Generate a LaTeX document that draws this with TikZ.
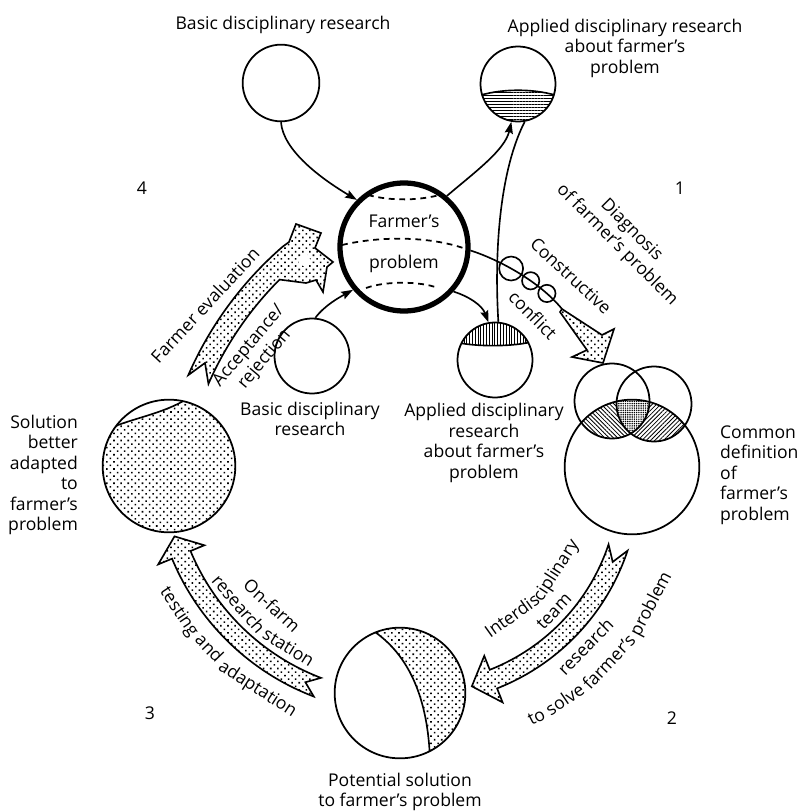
\documentclass[tikz,border=0pt]{standalone}
\usepackage{fontspec}
\setmainfont{Open Sans}
\usetikzlibrary{arrows.meta,calc,patterns.meta,decorations.text}
\pgfdeclarelayer{background}
\pgfsetlayers{background,main}

\newcommand{\lbl}{\fontsize{15}{17.5}\selectfont}

% fat dotted arrow on a ring: centre, radius, tail, notch, head base, tip
\newcommand{\fatarrow}[6]{%
  \draw[fat] ($(#1)+(#3:{#2+10})$) arc[start angle=#3, end angle=#5, radius=#2+10]
    -- ($(#1)+(#5:{#2+25})$) -- ($(#1)+(#6:#2)$) -- ($(#1)+(#5:{#2-25})$)
    -- ($(#1)+(#5:{#2-10})$) arc[start angle=#5, end angle=#3, radius=#2-10]
    -- ($(#1)+(#4:#2)$) -- cycle;}

% label bent along a ring: centre, radius, from, to, text
\newcommand{\arctext}[5]{%
  \path[decorate, decoration={text along path, text align=center, text={|\lbl|#5}}]
    ($(#1)+(#3:#2)$) arc[start angle=#3, end angle=#4, radius=#2];}

\begin{document}
\begin{tikzpicture}[x=0.03cm, y=-0.03cm, font=\lbl,
  disc/.style={circle, draw, line width=1.5pt, inner sep=0pt, minimum size=2.25cm},
  loop/.style={circle, draw, line width=1.4pt, inner sep=0pt, minimum size=0.52cm},
  link/.style={line width=1.4pt, -{Stealth[length=10pt, width=7pt, inset=1.5pt]}},
  dashes/.style={line width=1.5pt, dash pattern=on 5pt off 4pt},
  dotty/.style={pattern={Dots[distance=4.3pt, radius=0.95pt, angle=45]}},
  fat/.style={draw, line width=1.4pt, dotty}]
  \useasboundingbox (0,0) rectangle (800,811);

  % circles
  \node[disc, minimum size=2.3cm] (basicTop) at (281,83) {};
  \node[disc] (appliedTop) at (518,84) {};
  \node[circle, draw, line width=4.5pt, minimum size=3.84cm] (farmer) at (404,247) {};
  \node[disc] (basicLow) at (312,356) {};
  \node[disc] (appliedLow) at (495,360) {};
  \node[disc] (vennL) at (612,401) {};
  \node[disc] (vennR) at (654,404) {};
  \node[disc, minimum size=4.04cm] (vennBig) at (632,467) {};
  \node[disc, minimum size=3.98cm] (solution) at (169,466) {};
  \node[disc, minimum size=3.92cm] (potential) at (400,693) {};

  % shading
  \begin{pgfonlayer}{background}
    \begin{scope}
      \clip (appliedTop.center) circle[radius=37.5];
      \fill[pattern={Lines[angle=0, distance=2.6pt, line width=0.8pt]}]
        (475,97) .. controls (500,88) and (536,88) .. (561,97) -- (561,130) -- (475,130) -- cycle;
      \draw[line width=1.4pt] (475,97) .. controls (500,88) and (536,88) .. (561,97);
    \end{scope}
    \begin{scope}
      \clip (appliedLow.center) circle[radius=37.5];
      \fill[pattern={Lines[angle=90, distance=2.4pt, line width=0.7pt]}]
        (455,342) .. controls (475,347) and (515,347) .. (535,341) -- (535,315) -- (455,315) -- cycle;
      \draw[line width=1.4pt] (455,342) .. controls (475,347) and (515,347) .. (535,341);
    \end{scope}
    \begin{scope}
      \clip (vennBig.center) circle[radius=67];
      \fill[pattern={Lines[angle=-45, distance=2.6pt, line width=0.7pt]}] (vennL.center) circle[radius=37.5];
      \fill[pattern={Lines[angle=45, distance=2.6pt, line width=0.7pt]}] (vennR.center) circle[radius=37.5];
      \clip (vennL.center) circle[radius=37.5];
      \fill[white] (vennR.center) circle[radius=37.5];
      \fill[pattern={Dots[distance=1.9pt, radius=0.7pt]}] (vennR.center) circle[radius=37.5];
    \end{scope}
    \begin{scope}
      \clip (solution.center) circle[radius=66];
      \fill[dotty] (95,440) -- (118,425) .. controls (140,417) and (165,412) .. (185,400)
        -- (250,380) -- (250,550) -- (90,550) -- cycle;
      \draw[line width=1.4pt] (95,440) -- (118,425) .. controls (140,417) and (165,412) .. (185,400) -- (200,390);
    \end{scope}
    \begin{scope}
      \clip (potential.center) circle[radius=65];
      \fill[dotty] (372,630) .. controls (410,655) and (428,700) .. (430,760) -- (480,760) -- (480,620) -- cycle;
      \draw[line width=1.4pt] (372,630) .. controls (410,655) and (428,700) .. (430,760);
    \end{scope}
  \end{pgfonlayer}

  % inside the farmer's circle
  \draw[dashes] (368,195) .. controls (390,201) and (420,201) .. (443,194);
  \draw[dashes] (342,245) .. controls (380,236) and (430,236) .. (466,249);
  \draw[dashes] (366,288) .. controls (385,281) and (420,281) .. (438,288);
  \node (farmerA) at (404,221) {Farmer's};
  \node (farmerB) at (404,264) {problem};

  % labels
  \node (lblBasicTop) at (283,25) {Basic disciplinary research};
  \node[align=center] (lblAppliedTop) at (625,48) {Applied disciplinary research\\about farmer's\\problem};
  \node[align=center] (lblBasicLow) at (310,419) {Basic disciplinary\\research};
  \node[align=center] (lblAppliedLow) at (484,443) {Applied disciplinary\\research\\about farmer's\\problem};
  \node[align=left, anchor=west] (lblCommon) at (716,475) {Common\\definition\\of\\farmer's\\problem};
  \node[align=right, anchor=east] (lblSolution) at (82,475) {Solution\\better\\adapted\\to\\farmer's\\problem};
  \node[align=center] (lblPotential) at (400,792) {Potential solution\\to farmer's problem};
  \node (num1) at (680,188) {1};
  \node (num2) at (672,718) {2};
  \node (num3) at (150,713) {3};
  \node (num4) at (142,188) {4};

  % connectors
  \draw[link] (basicTop.south) .. controls (283,150) and (320,178) .. (farmer.135);
  \draw[link] (farmer.50) .. controls (475,172) and (505,150) .. (appliedTop.260);
  \draw[line width=1.4pt] (appliedLow.85) .. controls (494,250) and (500,170) .. (appliedTop.280);
  \draw[link] (farmer.-42) .. controls (468,296) and (482,305) .. (appliedLow.100);
  \draw[link] (basicLow.85) .. controls (325,305) and (340,297) .. (farmer.220);

  % constructive conflict
  \coordinate (ccTip) at (562,309);
  \draw[line width=1.4pt] (farmer.-3) .. controls (500,260) and (540,282) .. (ccTip)
    node[loop, minimum size=0.72cm, pos=0.42] (loopA) {}
    node[loop, pos=0.62] (loopB) {}
    node[loop, pos=0.8] (loopC) {};
  \draw[fat] (ccTip) -- (602,335) -- (614,329) -- (603,363) -- (572,357) -- (587,350) -- (560,312) -- cycle;
  \node[rotate=-43] (txtConstr) at (571,276) {Constructive};
  \node[rotate=-45] (txtConfl) at (533,315) {conflict};
  \node[rotate=-45, align=center] (txtDiag) at (624,238) {Diagnosis\\of farmer's problem};

  % farmer evaluation
  \coordinate (ringA) at (520,520);
  \draw[fat] ($(ringA)+(203.6:362)$) arc[start angle=203.6, end angle=229, radius=362]
    -- (289,242) -- (296,224) -- (321,233) -- (315,248) -- (333,262) -- (327,267)
    -- (323,292) -- (316,280) -- (306,283)
    -- ($(ringA)+(225:340)$) arc[start angle=225, end angle=203.6, radius=340]
    -- ($(ringA)+(206.5:352)$) -- cycle;
  \fill[white, draw, line width=1pt] (300,257) -- (306,254) -- (310,260) -- (306,266) -- (299,264) -- cycle;
  \node[rotate=47] (txtEval) at (205,305) {Farmer evaluation};
  \node[rotate=50, align=center] (txtAccept) at (257,353) {Acceptance/\\rejection};

  % interdisciplinary team
  \coordinate (ringC) at (415,480);
  \fatarrow{ringC}{214}{18.4}{22.5}{68.5}{74.6}
  \arctext{ringC}{173}{78}{8}{{Interdis}{ciplinary}}
  \arctext{ringC}{197}{73.4}{13.4}{{team}}
  \arctext{ringC}{245}{74.4}{14.4}{{research}}
  \arctext{ringC}{272}{77.5}{7.5}{{to} {solve} {farmer's} {problem}}

  % on-farm testing
  \coordinate (ringB) at (403,463);
  \fatarrow{ringB}{240}{110.9}{114}{157.5}{162.2}
  \arctext{ringB}{200}{162.6}{102.6}{{On-farm}}
  \arctext{ringB}{223}{161.5}{101.5}{{research} {station}}
  \arctext{ringB}{274}{162.8}{102.8}{{testing} {and} {adaptation}}
\end{tikzpicture}
\end{document}
